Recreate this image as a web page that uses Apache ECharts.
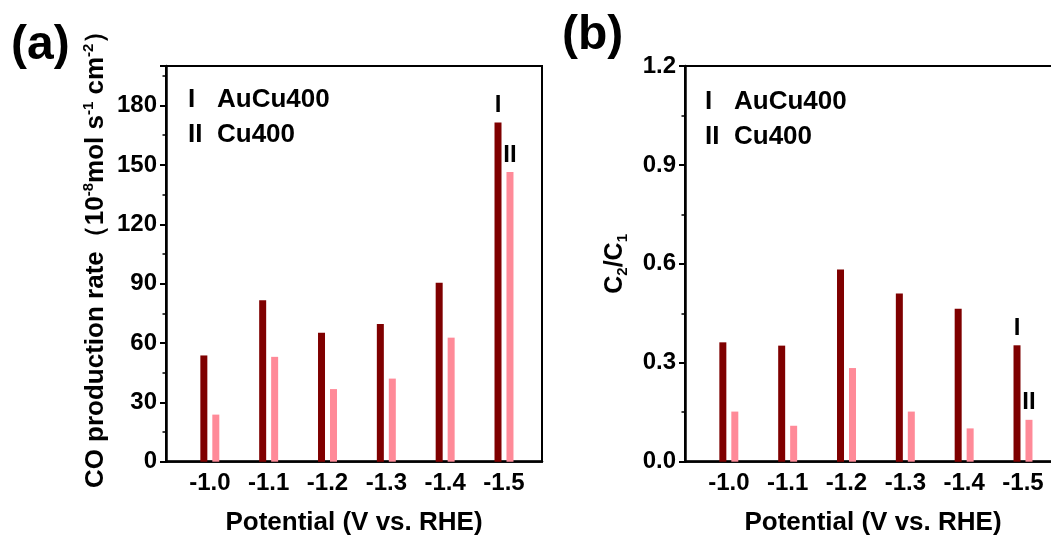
<!DOCTYPE html>
<html><head><meta charset="utf-8">
<script src="https://cdn.jsdelivr.net/npm/echarts@6/dist/echarts.min.js"></script>
<style>html,body{margin:0;padding:0;background:#fff}#c{width:1051px;height:535px}</style>
</head><body><div id="c"></div>
<script>
// ---- data ----
const categories = ['-1.0', '-1.1', '-1.2', '-1.3', '-1.4', '-1.5'];
const coRateAuCu400 = [53.7, 81.6, 65.2, 69.6, 90.5, 171.4];
const coRateCu400   = [23.8, 53.0, 36.7, 42.0, 62.7, 146.4];
const c2c1AuCu400   = [0.362, 0.352, 0.583, 0.510, 0.464, 0.353];
const c2c1Cu400     = [0.152, 0.109, 0.284, 0.152, 0.101, 0.127];
const seriesNames   = ['I', 'II'];
const legendLines   = [['I', 'AuCu400'], ['II', 'Cu400']];

// ---- style ----
const FONT = '"Liberation Sans", Arial, Helvetica, sans-serif';
const DARK = '#7f0000', PINK = '#ff8a98';
const X_MIN = 0.255, X_MAX = 6.646;
const txt = (size) => ({fontFamily: FONT, fontSize: size, fontWeight: 'bold', color: '#000'});

function xAxis(gridIndex) {
  return {
    type: 'value', gridIndex, min: X_MIN, max: X_MAX,
    name: 'Potential (V vs. RHE)', nameLocation: 'middle', nameGap: 48,
    nameTextStyle: txt(26),
    axisLine: {show: true, onZero: false, lineStyle: {color: '#000', width: 2.5}},
    axisTick: {show: false}, splitLine: {show: false},
    axisLabel: Object.assign(txt(24), {
      margin: 10,
      customValues: categories.map((c, i) => i + 1),
      formatter: v => categories[Math.round(v) - 1] || ''
    })
  };
}
function yAxis(gridIndex, max, interval, name, rich, fmt, pad) {
  return {
    type: 'value', gridIndex, min: 0, max, interval,
    name, nameLocation: 'middle', nameGap: 55,
    nameTextStyle: Object.assign(txt(26), {rich, padding: pad}),
    axisLine: {show: true, lineStyle: {color: '#000', width: 2.5}},
    axisTick: {show: true, inside: false, length: 6, lineStyle: {color: '#000', width: 2}},
    minorTick: {show: true, splitNumber: 2, length: 3.5, lineStyle: {color: '#000', width: 1.5}},
    splitLine: {show: false}, minorSplitLine: {show: false},
    axisLabel: Object.assign(txt(24), {margin: 9, showMaxLabel: max % interval === 0, formatter: fmt})
  };
}
function bars(name, vals, color, xi, yi, labelText) {
  return {
    type: 'bar', name, xAxisIndex: xi, yAxisIndex: yi,
    barWidth: 7, barGap: '71%',
    itemStyle: {color},
    data: vals.map((v, i) => i === vals.length - 1
      ? {value: [i + 1, v], label: Object.assign(txt(24), {show: true, position: 'top', distance: 5, formatter: labelText})}
      : [i + 1, v])
  };
}
const richA = {
  n: Object.assign(txt(26), {lineHeight: 30, verticalAlign: 'middle'}),
  s: Object.assign(txt(15), {lineHeight: 15, verticalAlign: 'top'})
};
const richB = {
  n: Object.assign(txt(25), {lineHeight: 30, verticalAlign: 'middle'}),
  b: Object.assign(txt(15), {lineHeight: 15, verticalAlign: 'bottom'})
};

function legendTexts(x0, y0) {
  const out = [];
  legendLines.forEach((ln, k) => {
    out.push({type: 'text', left: x0, top: y0 + k * 35, style: {text: ln[0], font: 'bold 26px ' + FONT, fill: '#000'}});
    out.push({type: 'text', left: x0 + 29, top: y0 + k * 35, style: {text: ln[1], font: 'bold 26px ' + FONT, fill: '#000'}});
  });
  return out;
}

const gridBase = {top: 66, width: 376, height: 395.7, show: true, borderColor: '#000', borderWidth: 2,
  backgroundColor: 'transparent', containLabel: false, outerBoundsMode: 'none'};

const chart = echarts.init(document.getElementById('c'), null, {renderer: 'canvas'});
chart.setOption({
  backgroundColor: '#fff',
  animation: false,
  grid: [
    Object.assign({left: 166}, gridBase),
    Object.assign({left: 685}, gridBase)
  ],
  xAxis: [xAxis(0), xAxis(1)],
  yAxis: [
    yAxis(0, 200, 30, '{n|CO production rate（10}{s|-8}{n|mol s}{s|-1}{n| cm}{s|-2}{n|）}', richA, v => String(v), [0, 0, 0, 22]),
    yAxis(1, 1.2, 0.3, '{n|C}{b|2}{n|/C}{b|1}', richB, v => v.toFixed(1), 0)
  ],
  series: [
    bars(seriesNames[0], coRateAuCu400, DARK, 0, 0, 'I'),
    bars(seriesNames[1], coRateCu400, PINK, 0, 0, 'II'),
    bars(seriesNames[0], c2c1AuCu400, DARK, 1, 1, 'I'),
    bars(seriesNames[1], c2c1Cu400, PINK, 1, 1, 'II')
  ],
  graphic: [
    {type: 'text', left: 11, top: 22, style: {text: '(a)', font: 'bold 48px ' + FONT, fill: '#000'}},
    {type: 'text', left: 562, top: 12, style: {text: '(b)', font: 'bold 48px ' + FONT, fill: '#000'}}
  ].concat(legendTexts(188, 87), legendTexts(705, 89))
});
</script>
</body></html>
